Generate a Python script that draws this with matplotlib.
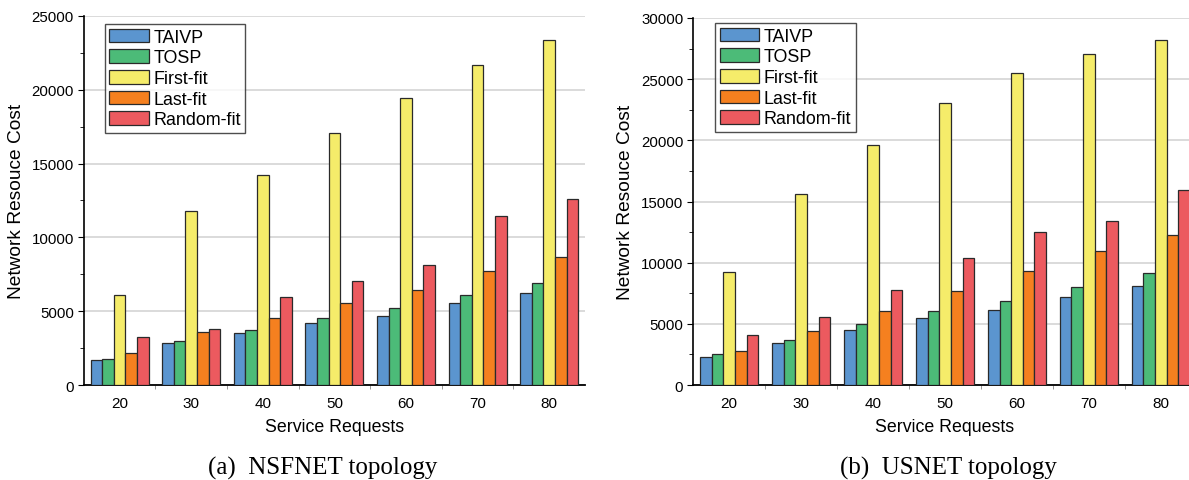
import numpy as np
import matplotlib
matplotlib.use("Agg")
import matplotlib.pyplot as plt
from matplotlib.ticker import MultipleLocator, FixedLocator

plt.rcParams['font.family'] = ['Liberation Sans', 'DejaVu Sans']

requests_ = [20, 30, 40, 50, 60, 70, 80]
methods = ['TAIVP', 'TOSP', 'First-fit', 'Last-fit', 'Random-fit']
colors = ['#5b95cf', '#4cbb78', '#f5ec6a', '#f5801f', '#ec5a5f']

# NSFNET topology
nsf_taivp = [1700, 2840, 3500, 4170, 4650, 5530, 6250]
nsf_tosp = [1780, 2980, 3720, 4560, 5210, 6070, 6880]
nsf_first = [6070, 11800, 14260, 17100, 19470, 21660, 23350]
nsf_last = [2140, 3560, 4560, 5570, 6430, 7740, 8640]
nsf_random = [3270, 3790, 5930, 7020, 8150, 11440, 12610]

# USNET topology
us_taivp = [2260, 3400, 4520, 5480, 6130, 7170, 8070]
us_tosp = [2500, 3700, 4990, 6080, 6870, 8040, 9130]
us_first = [9260, 15640, 19650, 23080, 25530, 27030, 28170]
us_last = [2800, 4410, 6020, 7660, 9290, 10930, 12230]
us_random = [4110, 5560, 7740, 10350, 12480, 13380, 15910]


def draw_panel(ax, series, ymax, leg_anchor):
    x = np.arange(len(requests_))
    w = 0.162
    for i, (vals, name, c) in enumerate(zip(series, methods, colors)):
        ax.bar(x + (i - 2) * w, vals, w, color=c, edgecolor='#2a2a2a',
               linewidth=0.9, label=name, zorder=3)

    ax.set_xlim(-0.5, len(requests_) - 0.5)
    ax.set_ylim(0, ymax)
    ax.set_xticks(x)
    ax.set_xticklabels([str(r) for r in requests_])
    ax.xaxis.set_minor_locator(FixedLocator(np.arange(0.5, len(requests_) - 0.5, 1)))
    ax.yaxis.set_major_locator(MultipleLocator(5000))
    ax.yaxis.set_minor_locator(MultipleLocator(2500))
    ax.tick_params(axis='x', which='major', length=0, labelsize=11, pad=8)
    ax.tick_params(axis='x', which='minor', length=3, color='#888888')
    ax.tick_params(axis='y', which='major', length=4, labelsize=10.8, pad=3)
    ax.tick_params(axis='y', which='minor', length=3)
    ax.grid(axis='y', color='#d4d4d4', linewidth=1.2, zorder=0)
    ax.set_axisbelow(True)
    for s in ['top', 'right']:
        ax.spines[s].set_visible(False)
    ax.spines['left'].set_linewidth(1.2)
    ax.spines['bottom'].set_linewidth(1.3)

    ax.set_ylabel('Network Resouce Cost', fontsize=13.8, labelpad=5)
    ax.set_xlabel('Service Requests', fontsize=12.8, labelpad=6)

    leg = ax.legend(loc='upper left', bbox_to_anchor=leg_anchor, fontsize=12.9,
                    frameon=True, fancybox=False, edgecolor='#222222',
                    handlelength=2.2, handleheight=0.8, handletextpad=0.25,
                    labelspacing=0.2, borderpad=0.25, borderaxespad=0.0)
    leg.get_frame().set_linewidth(1.0)


fig = plt.figure(figsize=(11.89, 4.81), dpi=100)
ax1 = fig.add_axes([0.0704, 0.1975, 0.4216, 0.7672])
ax2 = fig.add_axes([0.5829, 0.1975, 0.4238, 0.7630])

draw_panel(ax1, [nsf_taivp, nsf_tosp, nsf_first, nsf_last, nsf_random], 25000,
           (0.0425, 0.978))
draw_panel(ax2, [us_taivp, us_tosp, us_first, us_last, us_random], 30000,
           (0.044, 0.986))

# sub-figure captions
fig.text(0.2717, 0.027, '(a)  NSFNET topology', ha='center', va='center',
         fontsize=18, family='Liberation Serif')
fig.text(0.798, 0.027, '(b)  USNET topology', ha='center', va='center',
         fontsize=18, family='Liberation Serif')

fig.savefig('out.png', dpi=100)
